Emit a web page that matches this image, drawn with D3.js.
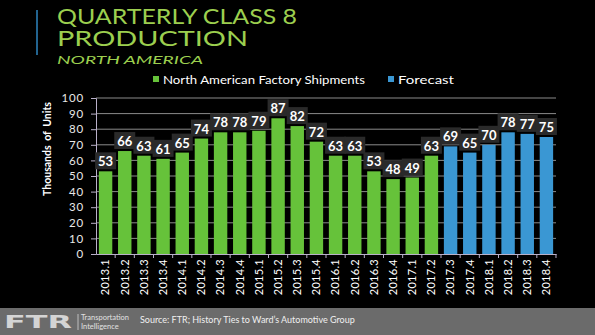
<!DOCTYPE html>
<html>
<head>
<meta charset="utf-8">
<script src="https://cdn.jsdelivr.net/npm/d3@7"></script>
<style>
  html, body { margin: 0; padding: 0; background: #000; }
  svg { display: block; }
</style>
</head>
<body>
<div id="chart"></div>
<script>

// quarters, history then forecast
var categories = ['2013.1', '2013.2', '2013.3', '2013.4', '2014.1', '2014.2', '2014.3', '2014.4',
                  '2015.1', '2015.2', '2015.3', '2015.4', '2016.1', '2016.2', '2016.3', '2016.4',
                  '2017.1', '2017.2', '2017.3', '2017.4', '2018.1', '2018.2', '2018.3', '2018.4'];

var shipments = [53, 66, 63, 61, 65, 74, 78, 78, 79, 87, 82, 72, 63, 63, 53, 48, 49, 63,
                 null, null, null, null, null, null];
var forecast  = [null, null, null, null, null, null, null, null, null, null, null, null,
                 null, null, null, null, null, null, 69, 65, 70, 78, 77, 75];

var yTicks = [0, 10, 20, 30, 40, 50, 60, 70, 80, 90, 100];

var seriesNames = ['North American Factory Shipments', 'Forecast'];

var width = 595, height = 335;
var green = '#66c23a', blue = '#3a97d3', titleGreen = '#9ccf4f';
var font = 'Lato, "DejaVu Sans", sans-serif';

var svg = d3.select('#chart').append('svg')
    .attr('width', width)
    .attr('height', height)
    .style('background', '#000');

// title block
svg.append('line')
    .attr('x1', 37).attr('x2', 37).attr('y1', 10).attr('y2', 55)
    .attr('stroke', '#2e86c1').attr('stroke-width', 1.5);

function title(txt, yPos, size, len, italic) {
    svg.append('text')
        .attr('x', 57).attr('y', yPos)
        .attr('fill', titleGreen)
        .attr('textLength', len).attr('lengthAdjust', 'spacingAndGlyphs')
        .style('font-family', font).style('font-size', size + 'px')
        .style('font-style', italic ? 'italic' : 'normal')
        .text(txt);
}
title('QUARTERLY CLASS 8', 23.5, 20.5, 240, false);
title('PRODUCTION', 45.5, 20.5, 191, false);
title('NORTH AMERICA', 63.5, 12, 146, true);

// legend
var legend = svg.append('g').attr('transform', 'translate(153,80)');
[[0, green, 202], [235, blue, 56]].forEach(function(d, i) {
    legend.append('rect')
        .attr('x', d[0]).attr('y', -4).attr('width', 6).attr('height', 6)
        .attr('fill', d[1]);
    legend.append('text')
        .attr('x', d[0] + 10).attr('y', 3.5)
        .attr('fill', '#fff')
        .attr('textLength', d[2]).attr('lengthAdjust', 'spacingAndGlyphs')
        .style('font-family', font).style('font-size', '11px')
        .text(seriesNames[i]);
});

// plot
var margin = {left: 96, right: 39, top: 98, bottom: 81};
var plotW = width - margin.left - margin.right;
var plotH = height - margin.top - margin.bottom;

var g = svg.append('g').attr('transform', 'translate(' + margin.left + ',' + margin.top + ')');

var x = d3.scaleBand().domain(categories).range([0, plotW]).paddingInner(0.3).paddingOuter(0.15);
var y = d3.scaleLinear().domain([0, 100]).range([plotH, 0]);

// grid
g.selectAll('.grid')
    .data(yTicks.filter(function(d) { return d > 0; }))
    .enter().append('line')
    .attr('x1', 0).attr('x2', plotW)
    .attr('y1', function(d) { return y(d); })
    .attr('y2', function(d) { return y(d); })
    .attr('stroke', '#8a8a8a').attr('stroke-width', 1);

// y axis
var yAxis = g.append('g')
    .call(d3.axisLeft(y).tickValues(yTicks).tickSize(5).tickPadding(7));
yAxis.select('.domain').attr('stroke', '#b9b0c9');
yAxis.selectAll('.tick line').attr('stroke', '#b9b0c9');
yAxis.selectAll('.tick text')
    .attr('fill', '#e8e8e8')
    .style('font-family', font).style('font-size', '11.5px').style('letter-spacing', '0.8px');

// x axis
var xAxis = g.append('g')
    .attr('transform', 'translate(0,' + plotH + ')')
    .call(d3.axisBottom(x).tickSize(4).tickSizeOuter(0));
xAxis.select('.domain').attr('stroke', '#b9b0c9');
xAxis.selectAll('.tick line')
    .attr('stroke', '#b9b0c9')
    .attr('transform', 'translate(' + (x.step() / 2) + ',0)');
xAxis.selectAll('.tick text')
    .attr('fill', '#fff')
    .attr('transform', 'rotate(-90)')
    .attr('text-anchor', 'end')
    .attr('x', -5).attr('y', 0).attr('dy', '0.35em')
    .style('font-family', font).style('font-size', '11px').style('letter-spacing', '0.3px');

// bars
function drawBars(values, color) {
    var data = categories.map(function(c, i) { return {cat: c, v: values[i]}; })
        .filter(function(d) { return d.v != null; });

    g.selectAll(null)
        .data(data)
        .enter().append('rect')
        .attr('x', function(d) { return x(d.cat); })
        .attr('y', function(d) { return y(d.v); })
        .attr('width', x.bandwidth())
        .attr('height', function(d) { return plotH - y(d.v); })
        .attr('fill', color);

    var lab = g.selectAll(null)
        .data(data)
        .enter().append('g')
        .attr('transform', function(d) {
            return 'translate(' + (x(d.cat) + x.bandwidth() / 2) + ',' + (y(d.v) - 10) + ')';
        });
    lab.append('rect')
        .attr('x', -10.5).attr('y', -9).attr('width', 21).attr('height', 17)
        .attr('fill', '#2a2a2a');
    lab.append('text')
        .attr('text-anchor', 'middle')
        .attr('y', 5)
        .attr('fill', '#fff')
        .style('font-family', font).style('font-size', '13px').style('font-weight', 'bold')
        .text(function(d) { return d.v; });
}

drawBars(shipments, green);
drawBars(forecast, blue);

// y title
svg.append('text')
    .attr('transform', 'translate(51,149) rotate(-90)')
    .attr('text-anchor', 'middle')
    .attr('fill', '#fff')
    .style('font-family', font).style('font-size', '10.5px').style('font-weight', 'bold')
    .style('word-spacing', '2px')
    .text('Thousands of Units');

// footer
svg.append('rect')
    .attr('x', 0).attr('y', 308).attr('width', width).attr('height', 27)
    .attr('fill', '#6b6b6b');

svg.append('text')
    .attr('x', 4).attr('y', 328)
    .attr('fill', '#d4d4d4')
    .style('font-family', '"DejaVu Sans", sans-serif').style('font-size', '17px')
    .style('font-weight', 'bold').attr('textLength', 68).attr('lengthAdjust', 'spacingAndGlyphs')
    .text('FTR');

svg.append('line')
    .attr('x1', 78).attr('x2', 78).attr('y1', 314).attr('y2', 330)
    .attr('stroke', '#d4d4d4').attr('stroke-width', 0.8);

svg.append('text')
    .attr('x', 81).attr('y', 320)
    .attr('fill', '#e0e0e0')
    .style('font-family', font).style('font-size', '7.5px')
    .text('Transportation');
svg.append('text')
    .attr('x', 81).attr('y', 329)
    .attr('fill', '#e0e0e0')
    .style('font-family', font).style('font-size', '7.5px')
    .text('Intelligence');

svg.append('text')
    .attr('x', 140).attr('y', 323)
    .attr('fill', '#f0f0f0')
    .style('font-family', font).style('font-size', '9px')
    .text('Source: FTR; History Ties to Ward\u2019s Automotive Group');

</script>
</body>
</html>
